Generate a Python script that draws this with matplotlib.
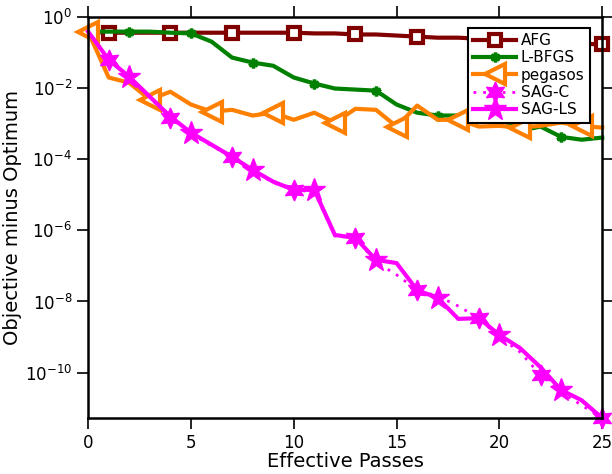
import numpy as np
import matplotlib
matplotlib.use("Agg")
import matplotlib.pyplot as plt
from matplotlib.ticker import LogFormatterMathtext, NullLocator

# effective passes 0..25, values as log10(objective - optimum)
passes = np.arange(26)

afg_log = [-0.41, -0.44, -0.44, -0.44, -0.44, -0.44, -0.44, -0.44, -0.44, -0.44,
           -0.44, -0.46, -0.46, -0.49, -0.49, -0.52, -0.55, -0.58, -0.58, -0.61,
           -0.63, -0.66, -0.69, -0.72, -0.75, -0.77]
lbfgs_log = [-0.41, -0.41, -0.41, -0.41, -0.44, -0.46, -0.69, -1.14, -1.28, -1.37,
             -1.70, -1.87, -2.01, -2.04, -2.07, -2.46, -2.69, -2.77, -2.77, -2.77,
             -2.83, -3.20, -3.08, -3.37, -3.45, -3.39]
pegasos_log = [-0.41, -1.70, -1.85, -2.32, -2.10, -2.46, -2.66, -2.61, -2.77, -2.69,
               -2.89, -2.69, -2.97, -2.58, -2.61, -3.08, -2.49, -2.89, -2.89, -3.08,
               -3.06, -3.11, -3.06, -2.97, -3.06, -3.11]
sagc_log = [-0.41, -1.20, -1.70, -2.27, -2.83, -3.28, -3.62, -3.93, -4.32, -4.66,
            -4.86, -4.92, -6.16, -6.21, -6.89, -7.25, -7.68, -7.85, -8.13, -8.47,
            -9.00, -9.42, -10.07, -10.55, -10.92, -11.28]
sagls_log = [-0.41, -1.20, -1.68, -2.24, -2.80, -3.25, -3.59, -3.93, -4.30, -4.63,
             -4.86, -4.86, -6.13, -6.21, -6.83, -6.92, -7.68, -7.90, -8.49, -8.47,
             -8.94, -9.31, -9.85, -10.49, -10.78, -11.28]

labels = ["AFG", "L-BFGS", "pegasos", "SAG-C", "SAG-LS"]

fig = plt.figure(figsize=(6.12, 4.74), dpi=100)
ax = fig.add_axes([0.144, 0.118, 0.84, 0.846])

ax.plot(passes, 10.0 ** np.array(afg_log), color="#800000", lw=3, marker="s", ms=9,
        mfc="w", mec="#800000", mew=3, markevery=(1, 3), clip_on=False, label=labels[0])
ax.plot(passes, 10.0 ** np.array(lbfgs_log), color="#008000", lw=3, marker=(6, 2, 0), ms=7,
        mec="#008000", mew=2.5, markevery=(2, 3), clip_on=False, label=labels[1])
ax.plot(passes, 10.0 ** np.array(pegasos_log), color="#ff8000", lw=3, marker="<", ms=14,
        mfc="w", mec="#ff8000", mew=3, markevery=(0, 3), clip_on=False, label=labels[2])
ax.plot(passes, 10.0 ** np.array(sagc_log), color="#ff00ff", lw=2, ls=(0, (1, 2.5)),
        marker=(6, 1, 0), ms=15, mfc="#ff00ff", mec="#ff00ff", markevery=(1, 3),
        clip_on=False, label=labels[3])
ax.plot(passes, 10.0 ** np.array(sagls_log), color="#ff00ff", lw=3, marker="*", ms=17,
        mfc="#ff00ff", mec="#ff00ff", markevery=(2, 3), clip_on=False, label=labels[4])

ax.set_yscale("log")
ax.set_xlim(0, 25)
ax.set_ylim(10.0 ** min(sagls_log), 1.0)
ax.set_xticks([0, 5, 10, 15, 20, 25])
ax.set_yticks([1e-10, 1e-8, 1e-6, 1e-4, 1e-2, 1e0])
ax.yaxis.set_major_formatter(LogFormatterMathtext())
ax.yaxis.set_minor_locator(NullLocator())
ax.tick_params(which="both", direction="out", top=True, right=True, labelsize=12,
               length=8, width=1.2)
for s in ax.spines.values():
    s.set_linewidth(1.8)

ax.set_xlabel("Effective Passes", fontsize=14, labelpad=0)
ax.set_ylabel("Objective minus Optimum", fontsize=14, labelpad=2)

leg = ax.legend(loc="upper right", fontsize=11, handlelength=2.8, borderpad=0.35,
                labelspacing=0.15, handletextpad=0.3, borderaxespad=0.3, fancybox=False,
                edgecolor="k", framealpha=1, bbox_to_anchor=(0.985, 0.985))
leg.get_frame().set_linewidth(1.5)

fig.savefig("out.png", dpi=100)
